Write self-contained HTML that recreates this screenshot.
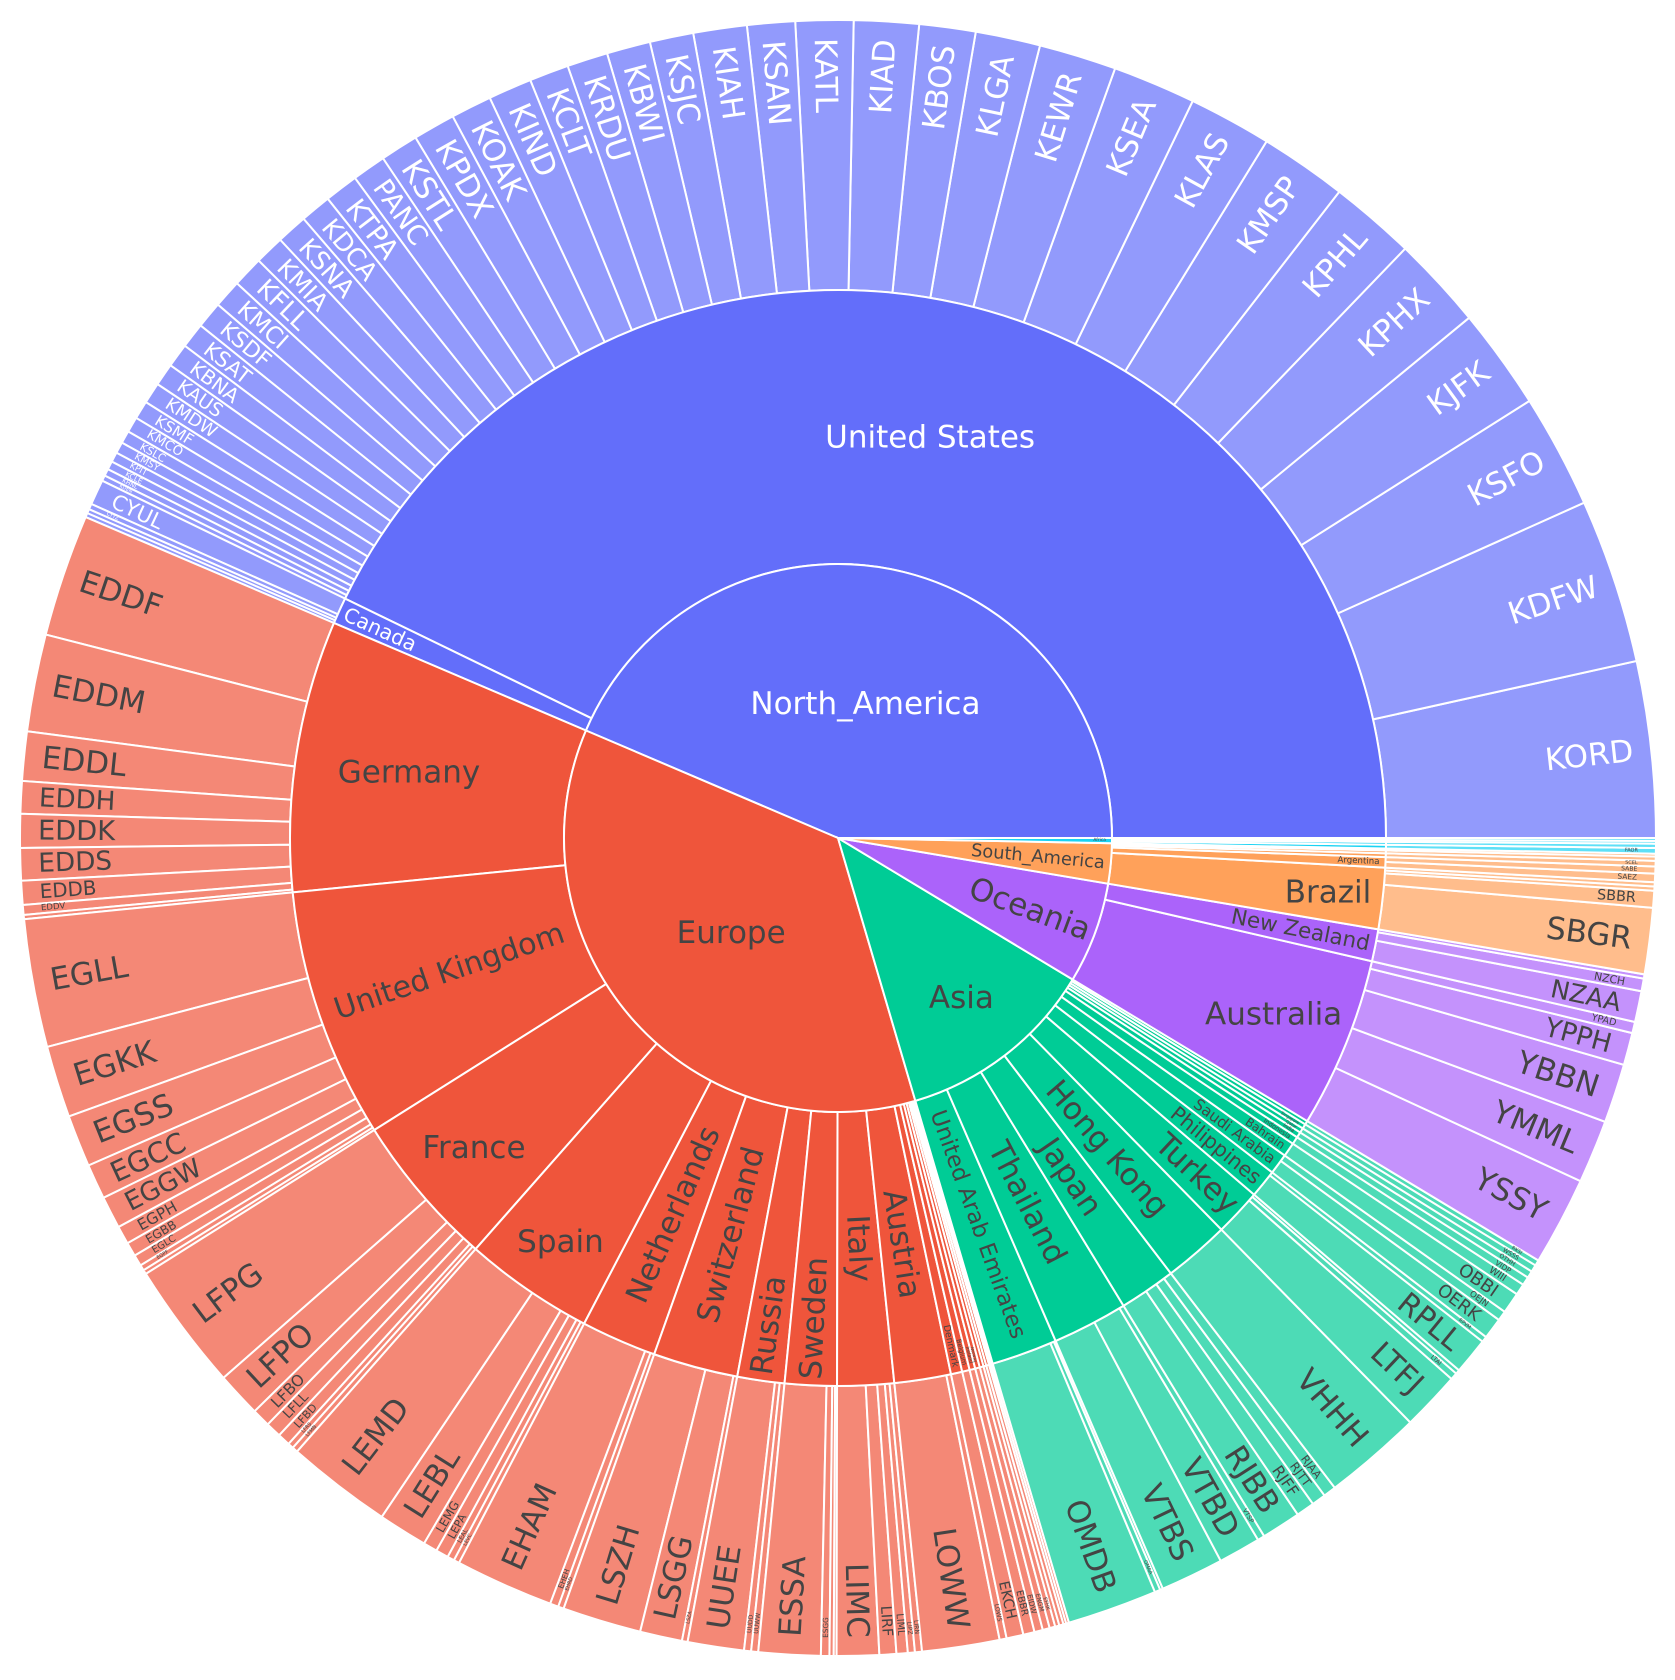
<!DOCTYPE html>
<html>
<head>
<meta charset="utf-8">
<style>
html,body{margin:0;padding:0;background:#fff;}
svg{display:block;}
text{font-family:"DejaVu Sans","Liberation Sans",sans-serif;}
</style>
</head>
<body>
<svg id="chart" width="1675" height="1680" viewBox="0 0 1675 1680" xmlns="http://www.w3.org/2000/svg">
  <rect x="0" y="0" width="1675" height="1680" fill="#ffffff"/>
  <g id="slices"></g>
  <g id="labels"></g>
</svg>
<script>
// ---- data ----
const continentNames = ['North_America','Europe','Asia','Oceania','South_America','Africa'];

const countryNames = ['United States','Canada',
  'Germany','United Kingdom','France','Spain','Netherlands','Switzerland','Russia','Sweden','Italy','Austria','Denmark','Belgium','Ireland','Norway','Finland','Portugal','Poland','Greece','Czechia',
  'United Arab Emirates','Thailand','Japan','Hong Kong','Turkey','Philippines','Saudi Arabia','Bahrain','Indonesia','India','Qatar','Singapore','South Korea',
  'Australia','New Zealand',
  'Brazil','Argentina','Chile','Colombia','Peru',
  'South Africa','Egypt','Nigeria','Morocco'];
const countryContinent = ['North_America','North_America',
  'Europe','Europe','Europe','Europe','Europe','Europe','Europe','Europe','Europe','Europe','Europe','Europe','Europe','Europe','Europe','Europe','Europe','Europe','Europe',
  'Asia','Asia','Asia','Asia','Asia','Asia','Asia','Asia','Asia','Asia','Asia','Asia','Asia',
  'Oceania','Oceania',
  'South_America','South_America','South_America','South_America','South_America',
  'Africa','Africa','Africa','Africa'];

const airportNames = [
  'KORD','KDFW','KSFO','KJFK','KPHX','KPHL','KMSP','KLAS','KSEA','KEWR','KLGA','KBOS','KIAD','KATL','KSAN','KIAH','KSJC','KBWI','KRDU','KCLT','KIND','KOAK','KPDX','KSTL','PANC','KTPA','KDCA','KSNA','KMIA','KFLL','KMCI','KSDF','KSAT','KBNA','KAUS','KMDW','KSMF','KMCO','KSLC','KMSY','KPIT','KCLE','KHNL','KDEN',
  'CYUL','CYYZ','CYVR','CYYC',
  'EDDF','EDDM','EDDL','EDDH','EDDK','EDDS','EDDB','EDDV','EDDN',
  'EGLL','EGKK','EGSS','EGCC','EGGW','EGPH','EGBB','EGLC','EGPF','EGNT',
  'LFPG','LFPO','LFBO','LFLL','LFBD','LFRS','LFMN',
  'LEMD','LEBL','LEMG','LEPA','LEAL','LEVC',
  'EHAM','EHEH','EHRD',
  'LSZH','LSGG','LSZA',
  'UUEE','UUDD','UUWW',
  'ESSA','ESGG','ESSB','ESMS',
  'LIMC','LIRF','LIML','LIPZ','LIRN',
  'LOWW','LOWS',
  'EKCH','EBBR','EIDW','ENGM','EFHK','LPPT','EPWA','LGAV','LKPR',
  'OMDB','OMAA','OMSJ',
  'VTBS','VTBD','VTSP',
  'RJBB','RJFF','RJTT','RJAA',
  'VHHH',
  'LTFJ','LTAI','LTBA',
  'RPLL','RPVM',
  'OERK','OEJN',
  'OBBI',
  'WIII','VIDP','OTHH','WSSS','RKSI',
  'YSSY','YMML','YBBN','YPPH','YPAD',
  'NZAA','NZCH','NZWN',
  'SBGR','SBBR','SBKP','SBSP',
  'SAEZ','SABE','SCEL','SKBO','SPJC',
  'FAOR','HECA','DNMM','GMMN'];
const airportCountry = [
  ...Array(44).fill('United States'),
  ...Array(4).fill('Canada'),
  ...Array(9).fill('Germany'),
  ...Array(10).fill('United Kingdom'),
  ...Array(7).fill('France'),
  ...Array(6).fill('Spain'),
  ...Array(3).fill('Netherlands'),
  ...Array(3).fill('Switzerland'),
  ...Array(3).fill('Russia'),
  ...Array(4).fill('Sweden'),
  ...Array(5).fill('Italy'),
  ...Array(2).fill('Austria'),
  'Denmark','Belgium','Ireland','Norway','Finland','Portugal','Poland','Greece','Czechia',
  ...Array(3).fill('United Arab Emirates'),
  ...Array(3).fill('Thailand'),
  ...Array(4).fill('Japan'),
  'Hong Kong',
  ...Array(3).fill('Turkey'),
  ...Array(2).fill('Philippines'),
  ...Array(2).fill('Saudi Arabia'),
  'Bahrain',
  'Indonesia','India','Qatar','Singapore','South Korea',
  ...Array(5).fill('Australia'),
  ...Array(3).fill('New Zealand'),
  ...Array(4).fill('Brazil'),
  'Argentina','Argentina','Chile','Colombia','Peru',
  'South Africa','Egypt','Nigeria','Morocco'];
const airportValues = [
  12.5,11.7,8.1,7.2,6.6,6.1,6.2,5.9,5.9,5.5,4.6,4.0,4.6,4.1,3.4,3.8,3.1,3.1,2.9,2.8,3.1,2.9,3.0,2.7,2.4,2.4,2.2,2.2,2.1,2.2,2.0,1.9,1.8,1.7,1.6,1.5,1.3,1.1,0.9,0.8,0.7,0.6,0.5,0.4,
  1.8,0.4,0.3,0.3,
  8.7,6.9,3.5,2.3,2.4,2.3,1.7,0.7,0.3,
  9.1,5.1,3.7,2.5,2.3,1.3,1.0,0.8,0.4,0.3,
  9.1,3.2,1.3,1.1,0.9,0.4,0.4,
  7.5,3.5,1.0,0.9,0.5,0.4,
  7.0,0.6,0.4,
  5.6,3.0,0.4,
  4.0,0.5,0.5,
  4.4,0.6,0.3,0.2,
  3.0,1.2,0.8,0.5,0.5,
  5.5,0.5,
  1.2,0.8,0.6,0.5,0.4,0.3,0.3,0.2,0.2,
  6.4,0.4,0.2,
  4.5,3.0,0.5,
  2.8,1.3,1.0,0.9,
  7.0,
  4.2,0.5,0.3,
  2.6,0.4,
  1.5,0.7,
  1.5,
  0.8,0.6,0.5,0.5,0.4,
  6.3,4.5,4.2,2.3,0.8,
  2.2,0.9,0.3,
  4.7,1.2,0.3,0.3,
  0.6,0.5,0.4,0.3,0.2,
  0.4,0.3,0.2,0.2];

// ---- style ----
const continentColors = {North_America:'#636efa',Europe:'#ef553b',Asia:'#00cc96',Oceania:'#ab63fa',South_America:'#ffa15a',Africa:'#19d3f3'};
const horizontalLabels = new Set(['North_America','Europe','Asia','United States','Germany','France','Spain','Australia','Brazil']);
const labelRadiusOverride = {North_America:137, Europe:143, Asia:202, Germany:434, France:478, Spain:490, Australia:470, Brazil:493};
const CX = 838, CY = 838;
const RINGS = [[0,274],[274,548],[548,818]];
const MAXFS = 31;

const NS = 'http://www.w3.org/2000/svg';
const gS = document.getElementById('slices');
const gL = document.getElementById('labels');

function lighten(hex, t){
  const n = parseInt(hex.slice(1),16);
  const r=(n>>16)&255, g=(n>>8)&255, b=n&255;
  const f=c=>Math.round(c+(255-c)*t);
  return 'rgb('+f(r)+','+f(g)+','+f(b)+')';
}
function pt(r,a){ return [CX + r*Math.cos(a), CY - r*Math.sin(a)]; }
function arcPath(r0,r1,a0,a1){
  const large = (a1-a0) > Math.PI ? 1 : 0;
  const o0=pt(r1,a0), o1=pt(r1,a1);
  if (r0 <= 0) {
    return 'M'+CX+','+CY+' L'+o0[0]+','+o0[1]+' A'+r1+','+r1+' 0 '+large+' 0 '+o1[0]+','+o1[1]+' Z';
  }
  const i0=pt(r0,a0), i1=pt(r0,a1);
  return 'M'+i0[0]+','+i0[1]+' L'+o0[0]+','+o0[1]+' A'+r1+','+r1+' 0 '+large+' 0 '+o1[0]+','+o1[1]+
         ' L'+i1[0]+','+i1[1]+' A'+r0+','+r0+' 0 '+large+' 1 '+i0[0]+','+i0[1]+' Z';
}
function slug(s){ return s.toLowerCase().replace(/[^a-z0-9]+/g,'-'); }

function measure(txt){
  const t = document.createElementNS(NS,'text');
  t.setAttribute('font-size','100');
  t.textContent = txt;
  gL.appendChild(t);
  const w = t.getComputedTextLength()/100;
  gL.removeChild(t);
  return w || txt.length*0.65;
}

function drawSlice(name, level, a0, a1, fill, kind){
  const [r0,r1] = RINGS[level];
  const p = document.createElementNS(NS,'path');
  p.setAttribute('d', arcPath(r0,r1,a0,a1));
  p.setAttribute('fill', fill);
  p.setAttribute('stroke', '#ffffff');
  p.setAttribute('stroke-width', '2');
  
  
  gS.appendChild(p);
}

function drawLabel(name, level, a0, a1, color, kind){
  const [r0,r1] = RINGS[level];
  const da = a1-a0, am = (a0+a1)/2;
  const w1 = measure(name);
  let fs, rc, rot;
  if (horizontalLabels.has(name)) {
    fs = Math.min(MAXFS, 0.9*(r1-r0)/w1);
    rc = labelRadiusOverride[name] || (r0+r1)/2;
    rot = 0;
  } else {
    const T = r1-r0, pad = (level===2) ? 18 : 6;
    const d = Math.min(da, 1.2);
    fs = Math.min(MAXFS, 0.9*(T-pad)/w1);
    const fOuter = (r1-pad)*d*0.9/(1 + w1*d*0.9);
    fs = Math.min(fs, fOuter);
    const L = w1*fs;
    const rmid = (r0+r1)/2;
    if (level===2) rc = r1 - L/2 - pad;
    else if ((rmid - L/2)*d*0.9 >= fs) rc = rmid;
    else rc = r1 - L/2 - pad;
    let deg = -am*180/Math.PI;
    deg = ((deg%360)+360)%360;
    if (deg>90 && deg<=270) deg -= 180;
    else if (deg>270) deg -= 360;
    rot = deg;
  }
  if (fs < 4) return;
  const [x,y] = pt(rc, am);
  const t = document.createElementNS(NS,'text');
  t.setAttribute('transform','translate('+x.toFixed(2)+','+y.toFixed(2)+') rotate('+rot.toFixed(2)+')');
  t.setAttribute('text-anchor','middle');
  t.setAttribute('dominant-baseline','central');
  t.setAttribute('font-size', fs.toFixed(2));
  t.setAttribute('fill', color);
  
  
  t.textContent = name;
  gL.appendChild(t);
}

// ---- aggregate ----
const total = airportValues.reduce((a,b)=>a+b,0);
const toAngle = v => v/total*2*Math.PI;
let cum = 0;
continentNames.forEach(cont=>{
  const base = continentColors[cont];
  const txt = cont==='North_America' ? '#ffffff' : '#444444';
  const cStart = cum;
  countryNames.forEach((ctry, ci)=>{
    if (countryContinent[ci] !== cont) return;
    const kStart = cum;
    airportNames.forEach((ap, ai)=>{
      if (airportCountry[ai] !== ctry) return;
      const a0 = toAngle(cum);
      cum += airportValues[ai];
      const a1 = toAngle(cum);
      drawSlice(ap, 2, a0, a1, lighten(base, 0.3), 'airport');
      drawLabel(ap, 2, a0, a1, txt, 'airport');
    });
    if (cum > kStart) {
      drawSlice(ctry, 1, toAngle(kStart), toAngle(cum), base, 'country');
      drawLabel(ctry, 1, toAngle(kStart), toAngle(cum), txt, 'country');
    }
  });
  if (cum > cStart) {
    drawSlice(cont, 0, toAngle(cStart), toAngle(cum), base, 'continent');
    drawLabel(cont, 0, toAngle(cStart), toAngle(cum), txt, 'continent');
  }
});
</script>
</body>
</html>
